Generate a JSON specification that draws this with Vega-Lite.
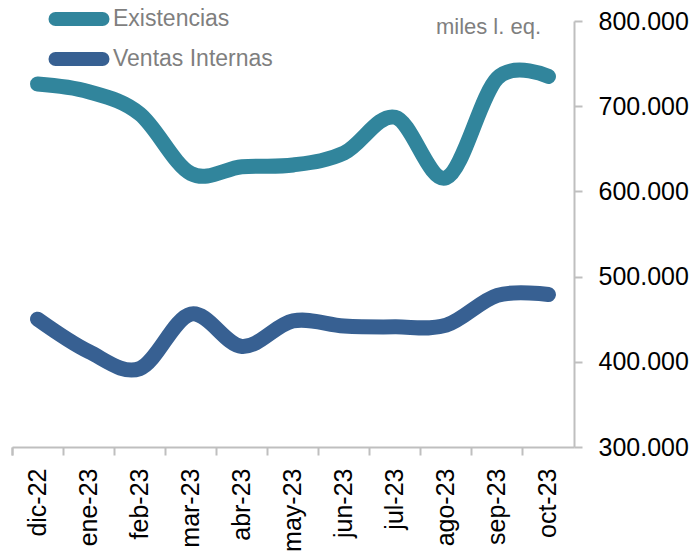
{
  "$schema": "https://vega.github.io/schema/vega-lite/v6.json",
  "width": 562,
  "height": 426,
  "autosize": {"type": "none"},
  "padding": {"left": 12, "top": 21, "right": 122, "bottom": 107},
  "background": "white",
  "config": {
    "view": {"stroke": null},
    "font": "Liberation Sans"
  },
  "data": {
    "values": [
      {"mes": "dic-22", "serie": "Existencias", "valor": 726000},
      {"mes": "ene-23", "serie": "Existencias", "valor": 717000},
      {"mes": "feb-23", "serie": "Existencias", "valor": 691000},
      {"mes": "mar-23", "serie": "Existencias", "valor": 621000},
      {"mes": "abr-23", "serie": "Existencias", "valor": 629000},
      {"mes": "may-23", "serie": "Existencias", "valor": 631000},
      {"mes": "jun-23", "serie": "Existencias", "valor": 645000},
      {"mes": "jul-23", "serie": "Existencias", "valor": 687000},
      {"mes": "ago-23", "serie": "Existencias", "valor": 616000},
      {"mes": "sep-23", "serie": "Existencias", "valor": 733000},
      {"mes": "oct-23", "serie": "Existencias", "valor": 735000},
      {"mes": "dic-22", "serie": "Ventas Internas", "valor": 450000},
      {"mes": "ene-23", "serie": "Ventas Internas", "valor": 412000},
      {"mes": "feb-23", "serie": "Ventas Internas", "valor": 392000},
      {"mes": "mar-23", "serie": "Ventas Internas", "valor": 456000},
      {"mes": "abr-23", "serie": "Ventas Internas", "valor": 418000},
      {"mes": "may-23", "serie": "Ventas Internas", "valor": 448000},
      {"mes": "jun-23", "serie": "Ventas Internas", "valor": 442000},
      {"mes": "jul-23", "serie": "Ventas Internas", "valor": 441000},
      {"mes": "ago-23", "serie": "Ventas Internas", "valor": 443000},
      {"mes": "sep-23", "serie": "Ventas Internas", "valor": 478000},
      {"mes": "oct-23", "serie": "Ventas Internas", "valor": 479000}
    ]
  },
  "mark": {
    "type": "line",
    "interpolate": "cardinal",
    "tension": 0,
    "strokeWidth": 15,
    "strokeCap": "round",
    "strokeJoin": "round"
  },
  "encoding": {
    "x": {
      "field": "mes",
      "type": "ordinal",
      "sort": null,
      "scale": {"type": "band", "paddingInner": 0, "paddingOuter": 0},
      "axis": {
        "title": null,
        "bandPosition": 0,
        "tickExtra": true,
        "domainColor": "#BFBFBF",
        "domainWidth": 2,
        "tickColor": "#BFBFBF",
        "tickWidth": 2,
        "tickSize": 8,
        "labelAngle": 270,
        "labelAlign": "right",
        "labelBaseline": "middle",
        "labelFontSize": 25,
        "labelColor": "#000000",
        "labelPadding": 13
      }
    },
    "y": {
      "field": "valor",
      "type": "quantitative",
      "scale": {"domain": [300000, 800000], "nice": false, "zero": false},
      "axis": {
        "orient": "right",
        "values": [300000, 400000, 500000, 600000, 700000, 800000],
        "labelExpr": "replace(format(datum.value, ',.0f'), ',', '.')",
        "grid": false,
        "domainColor": "#BFBFBF",
        "domainWidth": 2,
        "tickColor": "#BFBFBF",
        "tickWidth": 2,
        "tickSize": 8,
        "labelFontSize": 25,
        "labelColor": "#000000",
        "labelPadding": 16,
        "labelBaseline": "middle",
        "title": "miles l. eq.",
        "titleAngle": 0,
        "titleX": -86,
        "titleY": 5,
        "titleAlign": "center",
        "titleBaseline": "middle",
        "titleFontSize": 22,
        "titleFontWeight": "normal",
        "titleColor": "#7F7F7F"
      }
    },
    "color": {
      "field": "serie",
      "type": "nominal",
      "scale": {"domain": ["Existencias", "Ventas Internas"], "range": ["#31859C", "#376092"]},
      "legend": {
        "title": null,
        "orient": "none",
        "legendX": 55,
        "legendY": -14,
        "padding": 0,
        "symbolType": "M-4.7,0H4.7",
        "symbolSize": 100,
        "symbolStrokeWidth": 14,
        "labelFontSize": 23,
        "labelColor": "#7F7F7F",
        "labelOffset": 22,
        "rowPadding": -17,
        "labelLimit": 300,
        "encode": {"symbols": {"update": {"strokeCap": {"value": "round"}, "fill": {"value": "transparent"}}}}
      }
    }
  }
}
